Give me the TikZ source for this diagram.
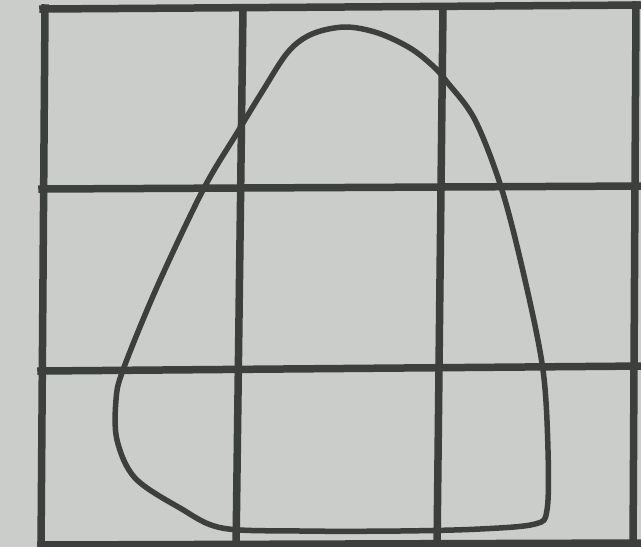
\documentclass[tikz,border=0pt]{standalone}
\definecolor{paper}{HTML}{CACDC9}
\definecolor{ink}{HTML}{3C403C}
\tikzset{
  gridline/.style={draw=ink, line width=7.5pt, line cap=rect},
  shapeline/.style={draw=ink, line width=5.5pt, line join=round}
}
\begin{document}
\begin{tikzpicture}[x=1pt,y=-1pt]
\fill[paper] (0,0) rectangle (641,547);
\useasboundingbox (0,0) rectangle (641,547);
% vertical grid lines
\draw[gridline] (45,8) -- (41,550);
\draw[gridline] (243,8) -- (236,550);
\draw[gridline] (443,8) -- (437,550);
\draw[gridline] (636,5) -- (633,550);
% horizontal grid lines
\draw[gridline] (43,9) -- (645,5);
\draw[gridline] (42,189) -- (645,186);
\draw[gridline] (41,371) -- (645,366);
\draw[gridline] (41,545) -- (645,543);
% closed curve
\draw[shapeline] plot[smooth cycle, tension=0.55] coordinates {
 (345,27) (378,33) (410,48) (433,66) (447,82) (475,120) (502,190)
 (525,280) (543,370) (548,450) (547,510) (535,524) (480,529) (400,531)
 (300,531) (222,528) (180,508) (135,478) (117,440) (116,400) (123,370)
 (157,287) (203,190) (237,133) (262,92) (288,52) (312,34)};
\end{tikzpicture}
\end{document}
